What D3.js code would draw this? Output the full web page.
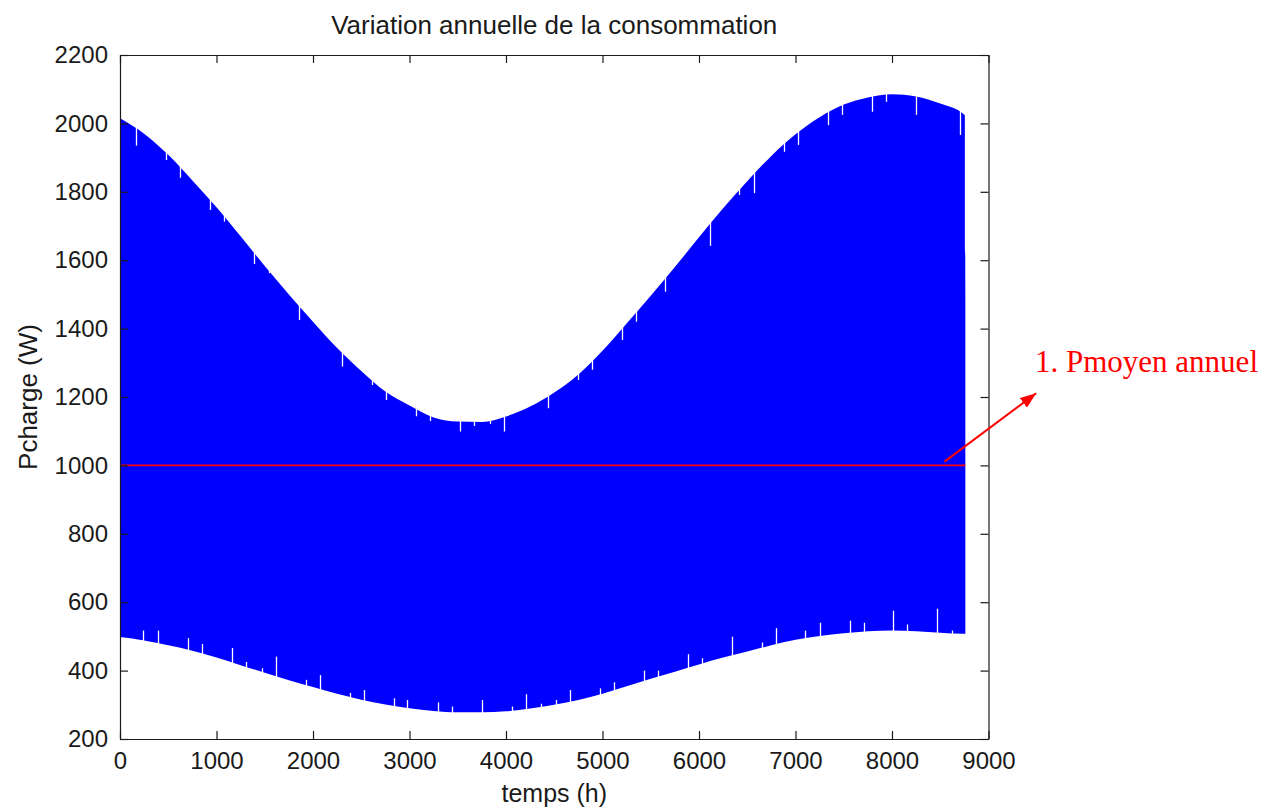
<!DOCTYPE html>
<html>
<head>
<meta charset="utf-8">
<script src="https://cdn.jsdelivr.net/npm/d3@7"></script>
<style>
  body { margin: 0; background: #fff; }
  text { font-family: "Liberation Sans", Arial, sans-serif; fill: #1a1a1a; }
</style>
</head>
<body>
<div id="chart"></div>
<script>
const width = 1281;
const height = 810;

// Plot box (MATLAB style axes)
const margin = {top: 55, right: 292, bottom: 71, left: 120};

// Envelope of the hourly load (hours, W)
const hours = [0, 250, 500, 750, 1000, 1250, 1500, 1750, 2000, 2250, 2500, 2750,
    3000, 3250, 3500, 3750, 4000, 4250, 4500, 4750, 5000, 5250, 5500, 5750,
    6000, 6250, 6500, 6750, 7000, 7250, 7500, 7750, 8000, 8250, 8500, 8750, 8755, 8760];
const upperLoad = [2015, 1970, 1908, 1833, 1755, 1670, 1583, 1500, 1420, 1343, 1276, 1216,
    1175, 1140, 1128, 1127, 1143, 1172, 1213, 1266, 1335, 1415, 1496, 1580,
    1667, 1752, 1831, 1905, 1968, 2018, 2055, 2076, 2085, 2079, 2058, 2025, 2022, 1480];
const lowerLoad = [498, 488, 474, 458, 438, 416, 394, 372, 352, 332, 315, 301,
    290, 282, 278, 278, 281, 289, 300, 314, 332, 354, 376, 397,
    418, 438, 456, 474, 490, 501, 509, 515, 517, 515, 511, 508, 508, 508];

// Days whose peak / trough fell short of the envelope (white gaps)
const upperNotchT = [166, 476, 621, 932, 1080, 1387, 1546, 1850, 2302, 2616, 2757, 3064, 3209,
    3527, 3665, 3830, 3975, 4434, 4745, 4891, 5204, 5349, 5652, 6115, 6418, 6566,
    6877, 7029, 7332, 7477, 7788, 7937, 8247, 8703];
const upperNotchV = [1935, 1893, 1841, 1747, 1713, 1589, 1562, 1425, 1289, 1235, 1191, 1144, 1130,
    1099, 1115, 1121, 1099, 1167, 1250, 1280, 1367, 1420, 1508, 1642, 1791, 1796,
    1917, 1937, 1995, 2025, 2034, 2063, 2025, 1966];
const lowerNotchT = [241, 397, 701, 846, 1159, 1304, 1473, 1615, 1925, 2070, 2381, 2529, 2836,
    2978, 3295, 3440, 3751, 4061, 4206, 4358, 4513, 4666, 4969, 5114, 5428, 5573,
    5883, 6028, 6339, 6649, 6794, 7101, 7253, 7564, 7705, 8015, 8160, 8471, 8620];
const lowerNotchV = [517, 517, 495, 478, 466, 425, 407, 441, 373, 387, 335, 343, 319,
    314, 307, 295, 314, 295, 331, 303, 314, 343, 348, 366, 400, 400,
    448, 436, 499, 482, 524, 517, 540, 546, 540, 575, 535, 581, 517];

// Mean annual load
const meanLoad = 1000;
const meanLabel = "1. Pmoyen annuel";

const xTicks = [0, 1000, 2000, 3000, 4000, 5000, 6000, 7000, 8000, 9000];
const yTicks = [200, 400, 600, 800, 1000, 1200, 1400, 1600, 1800, 2000, 2200];

const svg = d3.select("#chart")
    .append("svg")
    .attr("width", width)
    .attr("height", height);

const x = d3.scaleLinear()
    .domain([0, 9000])
    .range([margin.left, width - margin.right - 0.5]);

const y = d3.scaleLinear()
    .domain([200, 2200])
    .range([height - margin.bottom, margin.top]);

const rows = hours.map((h, i) => ({h: h, hi: upperLoad[i], lo: lowerLoad[i]}));

// Filled band of the hourly load
const area = d3.area()
    .x(d => x(d.h))
    .y0(d => y(d.lo))
    .y1(d => y(d.hi))
    .curve(d3.curveMonotoneX);

svg.append("path")
    .datum(rows)
    .attr("d", area)
    .attr("fill", "#0000ff");

// White gaps
const snap = v => Math.round(v) + 0.5;
svg.selectAll(".notch-up")
    .data(upperNotchT)
    .enter()
    .append("line")
    .attr("x1", d => snap(x(d)))
    .attr("x2", d => snap(x(d)))
    .attr("y1", (d, i) => y(upperNotchV[i]))
    .attr("y2", y(2200))
    .attr("stroke", "#fff")
    .attr("stroke-width", 1.3);

svg.selectAll(".notch-down")
    .data(lowerNotchT)
    .enter()
    .append("line")
    .attr("x1", d => snap(x(d)))
    .attr("x2", d => snap(x(d)))
    .attr("y1", (d, i) => y(lowerNotchV[i]))
    .attr("y2", y(200))
    .attr("stroke", "#fff")
    .attr("stroke-width", 1.3);

// Mean line
svg.append("line")
    .attr("x1", x(0))
    .attr("x2", x(8760))
    .attr("y1", y(meanLoad))
    .attr("y2", y(meanLoad))
    .attr("stroke", "#ff0000")
    .attr("stroke-width", 1.6);

// Axes, ticks inward on all four sides
const axisColor = "#1a1a1a";
const fmt = d3.format("d");
function styleAxis(g) {
    g.selectAll("path, line").attr("stroke", axisColor).attr("stroke-width", 1.2);
    g.selectAll("text").attr("fill", "#1a1a1a").style("font-size", "24px")
        .style("font-family", "'Liberation Sans', Arial, sans-serif");
}

svg.append("g")
    .attr("transform", `translate(0,${y(200)})`)
    .call(d3.axisBottom(x).tickValues(xTicks).tickFormat(fmt).tickSizeInner(-8).tickSizeOuter(0).tickPadding(13))
    .call(styleAxis);

svg.append("g")
    .attr("transform", `translate(0,${y(2200)})`)
    .call(d3.axisTop(x).tickValues(xTicks).tickSizeInner(-8).tickSizeOuter(0).tickFormat(""))
    .call(styleAxis);

svg.append("g")
    .attr("transform", `translate(${x(0)},0)`)
    .call(d3.axisLeft(y).tickValues(yTicks).tickFormat(fmt).tickSizeInner(-8).tickSizeOuter(0).tickPadding(12))
    .call(styleAxis);

svg.append("g")
    .attr("transform", `translate(${x(9000)},0)`)
    .call(d3.axisRight(y).tickValues(yTicks).tickSizeInner(-8).tickSizeOuter(0).tickFormat(""))
    .call(styleAxis);

// Title and axis labels
svg.append("text")
    .attr("x", (x(0) + x(9000)) / 2)
    .attr("y", 34)
    .attr("text-anchor", "middle")
    .style("font-size", "26px")
    .text("Variation annuelle de la consommation");

svg.append("text")
    .attr("x", (x(0) + x(9000)) / 2)
    .attr("y", 802)
    .attr("text-anchor", "middle")
    .style("font-size", "25px")
    .text("temps (h)");

svg.append("text")
    .attr("transform", `translate(37,${(y(200) + y(2200)) / 2}) rotate(-90)`)
    .attr("text-anchor", "middle")
    .style("font-size", "26px")
    .text("Pcharge (W)");

// Annotation arrow
const arrowFrom = [8544, 1011];
const arrowTo = [9494, 1211];
svg.append("defs").append("marker")
    .attr("id", "head")
    .attr("viewBox", "0 0 16 12")
    .attr("refX", 16)
    .attr("refY", 6)
    .attr("markerWidth", 16)
    .attr("markerHeight", 12)
    .attr("markerUnits", "userSpaceOnUse")
    .attr("orient", "auto")
    .append("path")
    .attr("d", "M0,0L16,6L0,12Z")
    .attr("fill", "#ff0000");

svg.append("line")
    .attr("x1", x(arrowFrom[0]))
    .attr("y1", y(arrowFrom[1]))
    .attr("x2", x(arrowTo[0]))
    .attr("y2", y(arrowTo[1]))
    .attr("stroke", "#ff0000")
    .attr("stroke-width", 2)
    .attr("marker-end", "url(#head)");

svg.append("text")
    .attr("x", 1035)
    .attr("y", 372)
    .style("font-family", "'Liberation Serif', 'Times New Roman', serif")
    .style("font-size", "31px")
    .style("fill", "#ff0000")
    .text(meanLabel);
</script>
</body>
</html>
